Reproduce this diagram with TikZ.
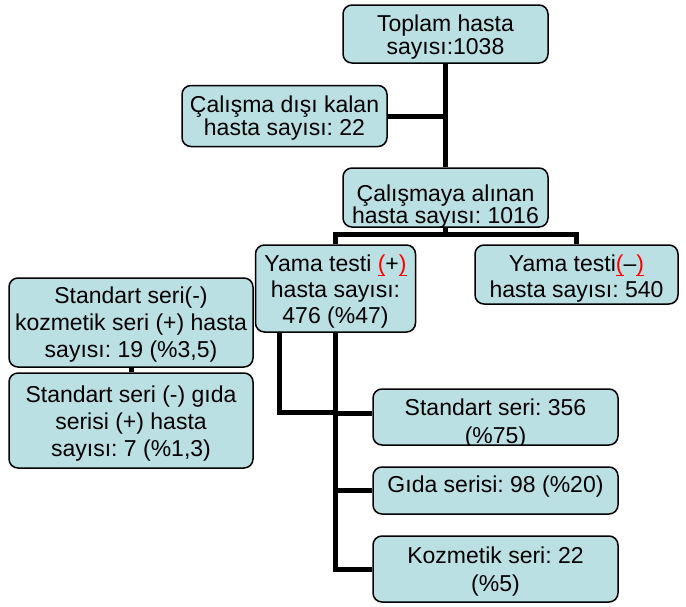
\documentclass[tikz,border=0pt]{standalone}
\usepackage{fontspec}
\setmainfont{Liberation Sans}
\usetikzlibrary{backgrounds}
\definecolor{boxfill}{RGB}{187,224,227}
\newcommand\fl{\rule{0pt}{18pt}}
\newcommand\rpar[1]{{\color{red}\setbox0\hbox{#1}\rlap{\rule[-5pt]{\wd0}{1.4pt}}\box0}}
\frenchspacing
\begin{document}
\begin{tikzpicture}[x=1pt,y=-1pt,
  box/.style={draw=black,line width=1.5pt,fill=boxfill,rounded corners=9pt,inner sep=0pt},
  lbl/.style={anchor=north,inner sep=0pt,align=center,font=\fontsize{23}{27}\selectfont},
  conn/.style={line width=5pt}]
\useasboundingbox (0,0) rectangle (686,606);
% boxes
\node[box,minimum width=205pt,minimum height=58pt] (top) at (445.5,34) {};
\node[box,minimum width=205pt,minimum height=61pt] (out) at (284.5,116) {};
\node[box,minimum width=205pt,minimum height=59pt] (inc) at (445.5,197.5) {};
\node[box,minimum width=160pt,minimum height=87pt] (pos) at (335.5,288.5) {};
\node[box,minimum width=203pt,minimum height=59pt] (neg) at (576.5,274.5) {};
\node[box,minimum width=244pt,minimum height=89pt] (kozneg) at (131,322.5) {};
\node[box,minimum width=244pt,minimum height=95pt] (gidneg) at (131,420.5) {};
\node[box,minimum width=245pt,minimum height=56pt] (std) at (495.5,417) {};
\node[box,minimum width=245pt,minimum height=47pt] (gida) at (495.5,490.5) {};
\node[box,minimum width=245pt,minimum height=66pt] (koz) at (495.5,569) {};
% texts
\node[lbl,font=\fontsize{23}{23}\selectfont] (topt) at (445.5,13.7) {\fl Toplam hasta\\sayısı:1038};
\node[lbl,font=\fontsize{23}{23}\selectfont] (outt) at (284.5,94) {\fl Çalışma dışı kalan\\hasta sayısı: 22};
\begin{scope}
\clip[rounded corners=8pt] (344,169) rectangle (547,226);
\node[lbl,font=\fontsize{23}{22}\selectfont] (inct) at (445.5,183) {\fl Çalışmaya alınan\\hasta sayısı: 1016};
\end{scope}
\node[lbl,font=\fontsize{23}{26}\selectfont] (post) at (335.5,253) {\fl Yama testi \rpar{(}+\rpar{)}\\hasta sayısı:\\476 (\%47)};
\node[lbl,font=\fontsize{23}{26}\selectfont] (negt) at (576.5,253) {\fl Yama testi\rpar{(}–\rpar{)}\\hasta sayısı: 540};
\node[lbl] (koznegt) at (131,285) {\fl Standart seri(-)\\kozmetik seri (+) hasta\\sayısı: 19 (\%3,5)};
\node[lbl] (gidnegt) at (131,384) {\fl Standart seri (-) gıda\\serisi (+) hasta\\sayısı: 7 (\%1,3)};
\begin{scope}
\clip[rounded corners=8pt] (374,390) rectangle (617,444);
\node[lbl,font=\fontsize{23}{28}\selectfont] (stdt) at (495.5,397) {\fl Standart seri: 356\\(\%75)};
\end{scope}
\node[lbl] (gidat) at (495.5,474) {\fl Gıda serisi: 98 (\%20)};
\node[lbl,font=\fontsize{23}{28}\selectfont] (kozt) at (495.5,545) {\fl Kozmetik seri: 22\\(\%5)};
% connectors
\coordinate (j1) at ([yshift=-7pt]inc.south);
\coordinate (lb) at (279,412);
\coordinate (stdin) at ([yshift=4pt]std.west);
\begin{scope}[on background layer]
\draw[conn] (top.south) -- (inc.north);
\draw[conn] (out.east) -- (out.east -| top.south);
\draw[conn] (inc.south) -- (j1);
\draw[conn] (pos.north) |- (j1) -| (neg.north);
\draw[conn] (pos.south -| lb) -- (lb) -- (lb -| pos.south);
\draw[conn] (pos.south) |- (koz.west);
\draw[conn] (pos.south |- gida.west) -- (gida.west);
\draw[conn] (pos.south |- stdin) -- (stdin);
\draw[conn] (kozneg.south) -- (gidneg.north);
\end{scope}
\end{tikzpicture}
\end{document}
